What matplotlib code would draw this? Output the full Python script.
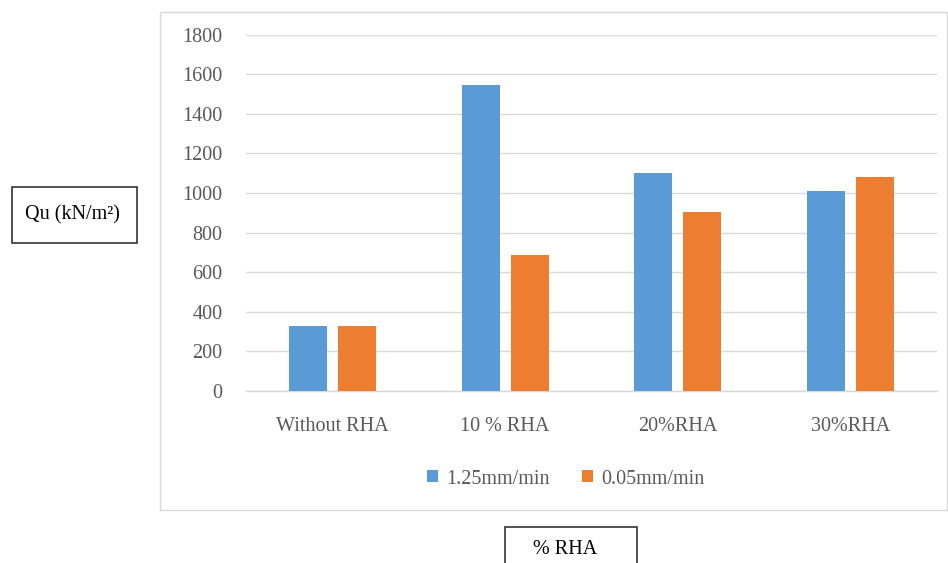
import matplotlib
matplotlib.use("Agg")
import matplotlib.pyplot as plt
from matplotlib.patches import Rectangle
import numpy as np

categories = ["Without RHA", "10 % RHA", "20%RHA", "30%RHA"]
rate_fast = [330, 1545, 1103, 1012]   # 1.25 mm/min
rate_slow = [330, 688, 904, 1078]     # 0.05 mm/min
series_labels = ["1.25mm/min", "0.05mm/min"]
y_ticks = [0, 200, 400, 600, 800, 1000, 1200, 1400, 1600, 1800]

BLUE = "#5B9BD5"
ORANGE = "#ED7D31"
GRID = "#D9D9D9"
TEXT = "#595959"

plt.rcParams["font.family"] = ["Liberation Serif", "DejaVu Serif"]

W, H = 948, 563
fig = plt.figure(figsize=(W / 100, H / 100), dpi=100)

# outer chart area frame
fig.patches.append(Rectangle((160 / W, 1 - 510 / H), (947 - 160) / W, (510 - 12) / H,
                             transform=fig.transFigure, fill=False,
                             edgecolor="#D9D9D9", linewidth=1.0))

ax = fig.add_axes([246 / W, 1 - 391 / H, (937 - 246) / W, (391 - 34.5) / H])

x = np.arange(len(categories))
w = 0.22
off = 0.142
ax.bar(x - off, rate_fast, width=w, color=BLUE, label=series_labels[0], zorder=3)
ax.bar(x + off, rate_slow, width=w, color=ORANGE, label=series_labels[1], zorder=3)

ax.set_xlim(-0.5, len(categories) - 0.5)
ax.set_ylim(0, 1800)
ax.set_yticks(y_ticks)
ax.set_yticklabels([str(v) for v in y_ticks])
ax.set_xticks(x)
ax.set_xticklabels(categories)
ax.yaxis.grid(True, color=GRID, linewidth=1.0, zorder=0)
ax.set_axisbelow(True)
for s in ["top", "right", "left"]:
    ax.spines[s].set_visible(False)
ax.spines["bottom"].set_color(GRID)
ax.spines["bottom"].set_linewidth(1.0)
ax.tick_params(axis="both", length=0, colors=TEXT, labelsize=14.5)
ax.tick_params(axis="y", pad=17)
ax.tick_params(axis="x", pad=19)

leg = fig.legend(loc="center", bbox_to_anchor=(566 / W, 1 - 479 / H), ncol=2,
                 frameon=False, fontsize=14.5, handlelength=0.55, handleheight=0.55,
                 columnspacing=1.6, handletextpad=0.4)
for t in leg.get_texts():
    t.set_color(TEXT)

# axis title boxes
fig.text(72 / W, 1 - 215 / H, "Qu (kN/m²)", ha="center", va="center",
         fontsize=14.5, color="black")
fig.patches.append(Rectangle((12 / W, 1 - 243 / H), 125 / W, 56 / H,
                             transform=fig.transFigure, fill=False,
                             edgecolor="#333333", linewidth=1.2))
fig.text(565 / W, 1 - 549 / H, "% RHA", ha="center", va="center",
         fontsize=14.5, color="black")
fig.patches.append(Rectangle((505 / W, 1 - 570 / H), 132 / W, 43 / H,
                             transform=fig.transFigure, fill=False,
                             edgecolor="#333333", linewidth=1.2))

fig.savefig("out.png", dpi=100)
